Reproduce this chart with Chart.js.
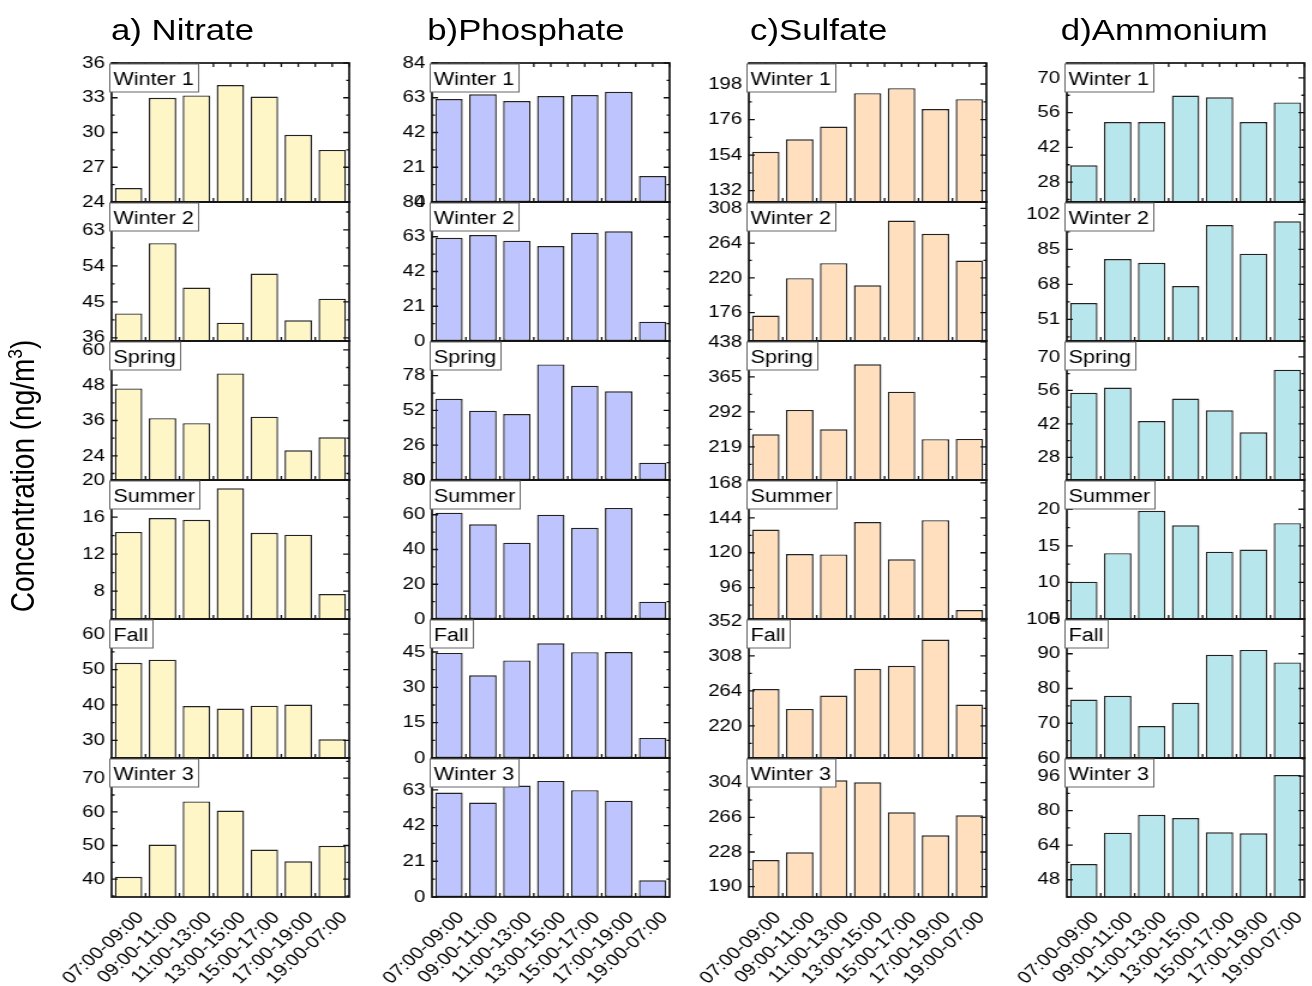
<!DOCTYPE html>
<html>
<head>
<meta charset="utf-8">
<script src="https://cdn.jsdelivr.net/npm/chart.js@4.4.1/dist/chart.umd.min.js"></script>
<style>
    html, body { margin: 0; padding: 0; background: #fff; overflow: hidden; }
    #stage {
        position: relative;
        width: 1094px;
        height: 986px;
        transform: scaleX(1.2);
        transform-origin: 0 0;
        font-family: "Liberation Sans", Arial, sans-serif;
        color: #000;
    }
    .title { position: absolute; top: 16px; font-size: 29px; line-height: 29px; white-space: nowrap; }
    #ytitle {
        position: absolute; left: 20.8px; top: 476px;
        font-size: 28px; line-height: 28px; white-space: nowrap;
        transform: translate(-50%, -50%) rotate(-90deg);
    }
    #ytitle span { font-size: 0.62em; position: relative; top: -0.55em; }
    canvas { position: absolute; }
</style>
</head>
<body>
<div id="stage">
    <div class="title" style="left:92.5px">a) Nitrate</div>
    <div class="title" style="left:356px">b)Phosphate</div>
    <div class="title" style="left:625px">c)Sulfate</div>
    <div class="title" style="left:884px">d)Ammonium</div>
    <div id="ytitle">Concentration (ng/m<span>3</span>)</div>
</div>
<script>
// Chart data
const timeSlots = ['07:00-09:00', '09:00-11:00', '11:00-13:00', '13:00-15:00', '15:00-17:00', '17:00-19:00', '19:00-07:00'];
const seasons = ['Winter 1', 'Winter 2', 'Spring', 'Summer', 'Fall', 'Winter 3'];

// one row per season, one value per time slot
const nitrateValues = [
    [25.2, 33.0, 33.2, 34.1, 33.1, 29.8, 28.5],
    [42.1, 59.7, 48.6, 39.8, 52.1, 40.4, 45.8],
    [46.9, 36.8, 35.1, 52.0, 37.3, 25.9, 30.3],
    [14.4, 15.9, 15.7, 19.1, 14.3, 14.1, 7.7],
    [51.9, 52.8, 39.7, 39.0, 39.8, 40.1, 30.3],
    [40.7, 50.3, 63.1, 60.4, 48.8, 45.3, 49.9]
];
const nitrateLimits = [[24, 36], [35.2, 70], [15.8, 63], [5, 20], [25, 64.3], [34.7, 76]];
const nitrateTicks = [
    [24, 27, 30, 33, 36], [36, 45, 54, 63], [24, 36, 48, 60],
    [8, 12, 16, 20], [30, 40, 50, 60], [40, 50, 60, 70]
];

const phosphateValues = [
    [62.2, 65.1, 61.0, 64.0, 64.6, 66.6, 15.7],
    [62.4, 64.0, 60.6, 57.4, 65.4, 66.3, 11.7],
    [60.7, 51.8, 49.3, 86.4, 70.4, 66.3, 12.9],
    [61.2, 54.5, 43.9, 60.0, 52.5, 63.9, 10.0],
    [44.6, 35.1, 41.4, 48.7, 44.9, 45.0, 8.5],
    [61.4, 55.5, 65.5, 68.2, 62.8, 56.6, 9.8]
];
const phosphateLimits = [[0, 84], [0, 84], [0, 103.9], [0, 80], [0, 59], [0, 81.7]];
const phosphateTicks = [
    [0, 21, 42, 63, 84], [0, 21, 42, 63, 84], [0, 26, 52, 78],
    [0, 20, 40, 60, 80], [0, 15, 30, 45], [0, 21, 42, 63]
];

const sulfateValues = [
    [156.1, 163.8, 171.7, 192.3, 195.4, 182.5, 188.6],
    [172.2, 219.5, 238.5, 210.6, 292.6, 275.8, 241.9],
    [245.5, 296.2, 255.9, 391.5, 334.3, 235.1, 235.7],
    [136.0, 119.1, 118.9, 141.1, 115.5, 142.4, 80.7],
    [266.2, 241.2, 258.1, 291.8, 295.6, 328.6, 246.7],
    [219.2, 227.6, 306.6, 304.4, 271.5, 246.3, 268.2]
];
const sulfateLimits = [[125, 211], [140, 316], [150, 440], [74.5, 170], [179.5, 354.4], [178.7, 331]];
const sulfateTicks = [
    [132, 154, 176, 198], [176, 220, 264, 308], [219, 292, 365, 438],
    [96, 120, 144, 168], [220, 264, 308, 352], [190, 228, 266, 304]
];

const ammoniumValues = [
    [34.8, 52.2, 52.2, 62.9, 62.2, 52.2, 60.1],
    [58.9, 80.3, 78.5, 67.2, 96.8, 82.9, 98.6],
    [55.0, 57.2, 43.2, 52.6, 47.7, 38.5, 64.6],
    [10.1, 14.0, 19.8, 17.8, 14.2, 14.5, 18.1],
    [76.8, 77.9, 69.2, 75.9, 89.7, 91.1, 87.5],
    [55.3, 69.8, 78.1, 76.6, 70.0, 69.5, 96.5]
];
const ammoniumLimits = [[20, 76], [40.5, 108], [18.6, 76.6], [5, 24], [60, 100], [40, 104.4]];
const ammoniumTicks = [
    [28, 42, 56, 70], [51, 68, 85, 102], [28, 42, 56, 70],
    [5, 10, 15, 20], [60, 70, 80, 90, 100], [48, 64, 80, 96]
];

const columns = [
    { values: nitrateValues, limits: nitrateLimits, ticks: nitrateTicks, color: '#FFF6C8' },
    { values: phosphateValues, limits: phosphateLimits, ticks: phosphateTicks, color: '#BEC5FE' },
    { values: sulfateValues, limits: sulfateLimits, ticks: sulfateTicks, color: '#FFDFBD' },
    { values: ammoniumValues, limits: ammoniumLimits, ticks: ammoniumTicks, color: '#B7E7EC' }
];

// Layout (stage units, stage is stretched 1.2x horizontally)
const plotLeft = [112, 432, 749, 1067].map(x => x / 1.2);
const plotW = 198;
const plotH = 139;
const firstTop = 63;
const axisW = 50;
const padTop = 12;
const padRight = 6;
const xAxisH = 89;

Chart.defaults.font.family = '"Liberation Sans", Arial, sans-serif';
Chart.defaults.font.size = 17;
Chart.defaults.color = '#000';

function framePlugin(label, tickVals, isTop) {
    return {
        id: 'frame',
        afterDatasetsDraw(chart) {
            const { ctx, chartArea: a, scales: { x, y } } = chart;
            ctx.save();
            ctx.strokeStyle = '#111';
            ctx.lineWidth = 1.3;
            ctx.beginPath();
            // major ticks, pointing inward on both sides
            tickVals.forEach(v => {
                const py = y.getPixelForValue(v);
                ctx.moveTo(a.left, py); ctx.lineTo(a.left + 5, py);
                ctx.moveTo(a.right, py); ctx.lineTo(a.right - 5, py);
            });
            // minor ticks halfway between majors
            const step = tickVals[1] - tickVals[0];
            for (let v = tickVals[0] - step / 2; v <= y.max; v += step) {
                if (v < y.min) continue;
                const py = y.getPixelForValue(v);
                ctx.moveTo(a.left, py); ctx.lineTo(a.left + 2.5, py);
                ctx.moveTo(a.right, py); ctx.lineTo(a.right - 2.5, py);
            }
            // x ticks between categories
            const n = timeSlots.length;
            const half = (x.getPixelForValue(1) - x.getPixelForValue(0)) / 2;
            for (let i = 1; i < n; i++) {
                const px = x.getPixelForValue(i) - half;
                ctx.moveTo(px, a.bottom); ctx.lineTo(px, a.bottom - 4);
            }
            if (isTop) {
                for (let i = 0; i < n; i++) {
                    const cx = x.getPixelForValue(i);
                    ctx.moveTo(cx, a.top); ctx.lineTo(cx, a.top + 4);
                    ctx.moveTo(cx + half, a.top); ctx.lineTo(cx + half, a.top + 4);
                }
            }
            ctx.stroke();
            ctx.lineWidth = 1.7;
            ctx.strokeRect(a.left, a.top, a.right - a.left, a.bottom - a.top);

            // season label box
            ctx.font = '18px "Liberation Sans", Arial, sans-serif';
            const w = ctx.measureText(label).width + 7;
            ctx.fillStyle = '#fff';
            ctx.fillRect(a.left - 1.5, a.top + 1, w, 28);
            ctx.strokeStyle = '#666';
            ctx.lineWidth = 1;
            ctx.strokeRect(a.left - 1.5, a.top + 1, w, 28);
            ctx.fillStyle = '#000';
            ctx.textBaseline = 'alphabetic';
            ctx.fillText(label, a.left + 1.5, a.top + 22);
            ctx.restore();
        }
    };
}

const stage = document.getElementById('stage');

columns.forEach((col, c) => {
    seasons.forEach((season, r) => {
        const isBottom = r === seasons.length - 1;
        const canvas = document.createElement('canvas');
        canvas.width = axisW + plotW + padRight;
        canvas.height = padTop + plotH + (isBottom ? xAxisH : padTop);
        canvas.style.left = (plotLeft[c] - axisW) + 'px';
        canvas.style.top = (firstTop + r * plotH - padTop) + 'px';
        stage.appendChild(canvas);

        const tickVals = col.ticks[r];
        new Chart(canvas, {
            type: 'bar',
            data: {
                labels: timeSlots,
                datasets: [{
                    data: col.values[r],
                    backgroundColor: col.color,
                    borderColor: '#222',
                    borderWidth: 1.4,
                    borderSkipped: false,
                    barPercentage: 0.81,
                    categoryPercentage: 1
                }]
            },
            options: {
                responsive: false,
                animation: false,
                events: [],
                layout: { padding: { left: 0, top: padTop, right: padRight, bottom: isBottom ? 0 : padTop } },
                plugins: { legend: { display: false }, tooltip: { enabled: false } },
                scales: {
                    x: {
                        display: isBottom,
                        offset: true,
                        grid: { display: false },
                        border: { display: false },
                        ticks: {
                            autoSkip: false,
                            maxRotation: 47,
                            minRotation: 47,
                            padding: 3,
                            labelOffset: 10,
                            font: { size: 17 }
                        },
                        afterFit: s => {
                            s.height = isBottom ? xAxisH : 0;
                            s.paddingLeft = 0;
                            s.paddingRight = 0;
                        }
                    },
                    y: {
                        min: col.limits[r][0],
                        max: col.limits[r][1],
                        bounds: 'data',
                        grid: { display: false, drawTicks: false },
                        border: { display: false },
                        ticks: { padding: 5.5, font: { size: 17 } },
                        afterBuildTicks: s => { s.ticks = tickVals.map(v => ({ value: v })); },
                        afterFit: s => { s.width = axisW; s.paddingTop = 0; s.paddingBottom = 0; }
                    }
                }
            },
            plugins: [framePlugin(season, tickVals, r === 0)]
        });
    });
});
</script>
</body>
</html>
